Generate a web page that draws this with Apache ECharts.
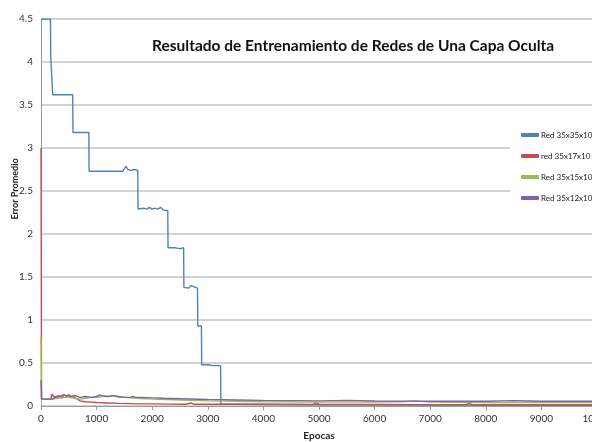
<!DOCTYPE html>
<html>
<head>
<meta charset="utf-8">
<script src="https://cdn.jsdelivr.net/npm/echarts@6/dist/echarts.min.js"></script>
<style>
  html, body { margin: 0; padding: 0; background: #fff; }
  #main { width: 592px; height: 442px; }
</style>
</head>
<body>
<div id="main"></div>
<script>
// valores (epocas / error promedio)
var yTicks = ['0', '0.5', '1', '1.5', '2', '2.5', '3', '3.5', '4', '4.5'];
var seriesNames = ['Red 35x35x10', 'red 35x17x10', 'Red 35x15x10', 'Red 35x12x10'];

var blueX = [0, 170, 175, 200, 210, 570, 575, 860, 865, 1470, 1500, 1530, 1560, 1590, 1620, 1650, 1680, 1710, 1740,
             1745, 1780, 1850, 1900, 1950, 2000, 2050, 2100, 2150, 2200, 2280, 2285, 2400, 2500, 2565, 2570, 2650,
             2700, 2815, 2820, 2885, 2890, 3000, 3100, 3230, 3235, 4000, 5000, 6000, 7000, 8000, 9000, 10000];
var blueY = [4.5, 4.5, 4.06, 4.06, 3.62, 3.62, 3.18, 3.18, 2.73, 2.73, 2.74, 2.79, 2.75, 2.77, 2.74, 2.76, 2.75, 2.77, 2.74,
             2.29, 2.28, 2.30, 2.29, 2.31, 2.29, 2.30, 2.29, 2.31, 2.28, 2.27, 1.84, 1.84, 1.83, 1.84, 1.38, 1.37,
             1.40, 1.37, 0.93, 0.93, 0.48, 0.48, 0.47, 0.47, 0.02, 0.02, 0.015, 0.015, 0.012, 0.012, 0.01, 0.01];

var redX = [0, 10, 100, 180, 190, 230, 260, 300, 340, 380, 420, 460, 500, 540, 580, 620, 660, 700, 800, 900, 1000, 1200,
            1400, 1600, 1800, 2000, 2300, 2600, 2700, 2750, 2800, 3000, 3500, 4000, 4900, 4950, 5000, 6000, 7000,
            7650, 7700, 7750, 8000, 9000, 10000];
var redY = [3.0, 0.08, 0.08, 0.08, 0.14, 0.11, 0.13, 0.10, 0.12, 0.09, 0.13, 0.11, 0.12, 0.10, 0.12, 0.09, 0.08, 0.06,
            0.05, 0.045, 0.04, 0.035, 0.03, 0.028, 0.025, 0.025, 0.022, 0.02, 0.035, 0.02, 0.02, 0.02, 0.02, 0.018,
            0.018, 0.04, 0.018, 0.017, 0.016, 0.016, 0.035, 0.016, 0.015, 0.015, 0.015];

var greenX = [0, 10, 200, 300, 400, 500, 600, 700, 800, 900, 1000, 1100, 1200, 1300, 1400, 1500, 1700, 2000, 2500,
              3000, 3500, 4000, 5000, 6000, 6500, 6700, 7000, 8000, 9000, 10000];
var greenY = [0.8, 0.08, 0.08, 0.09, 0.1, 0.1, 0.09, 0.08, 0.09, 0.1, 0.1, 0.11, 0.11, 0.12, 0.1, 0.1, 0.09, 0.08, 0.07,
              0.06, 0.055, 0.05, 0.045, 0.045, 0.05, 0.06, 0.045, 0.04, 0.04, 0.04];

var purpleX = [0, 10, 200, 260, 300, 350, 400, 450, 500, 560, 620, 700, 800, 900, 1000, 1050, 1100, 1200, 1300, 1400,
               1500, 1600, 1650, 1700, 1800, 2000, 2200, 2500, 3000, 3500, 4000, 4500, 5000, 5500, 6000, 7000, 8000,
               8500, 8800, 9000, 10000];
var purpleY = [0.3, 0.08, 0.08, 0.1, 0.12, 0.11, 0.13, 0.12, 0.13, 0.11, 0.12, 0.1, 0.11, 0.1, 0.11, 0.13, 0.12, 0.11,
               0.12, 0.11, 0.1, 0.1, 0.11, 0.1, 0.1, 0.095, 0.09, 0.085, 0.075, 0.07, 0.065, 0.062, 0.06, 0.065, 0.058,
               0.056, 0.055, 0.062, 0.058, 0.055, 0.055];

var colors = ['#4f81bd', '#c0504d', '#9bbb59', '#8064a2'];
var FONT = 'Lato, "Open Sans", sans-serif';

function pairs(xs, ys) {
    var out = [];
    for (var i = 0; i < xs.length; i++) out.push([xs[i], ys[i]]);
    return out;
}

var myChart = echarts.init(document.getElementById('main'));

var lineSeries = [[blueX, blueY], [redX, redY], [greenX, greenY], [purpleX, purpleY]].map(function (s, i) {
    return {
        name: seriesNames[i],
        type: 'line',
        data: pairs(s[0], s[1]),
        showSymbol: false,
        lineStyle: { width: 1.4, color: colors[i] },
        itemStyle: { color: colors[i] },
        animation: false
    };
});

var option = {
    animation: false,
    title: {
        text: 'Resultado de Entrenamiento de Redes de Una Capa Oculta',
        left: 147,
        top: 33,
        textStyle: { fontFamily: FONT, fontSize: 15.5, fontWeight: 'bold', color: '#111' }
    },
    // titulo del eje Y, algo por encima del centro como en el original
    graphic: [{
        type: 'text',
        x: 15,
        y: 189,
        rotation: Math.PI / 2,
        style: {
            text: 'Error Promedio',
            fontFamily: FONT, fontSize: 9, fontWeight: 'bold', fill: '#222',
            align: 'center', verticalAlign: 'middle'
        }
    }],
    legend: {
        orient: 'vertical',
        left: 510,
        top: 127,
        padding: [4, 6, 4, 11],
        backgroundColor: '#fff',
        itemWidth: 18,
        itemHeight: 4,
        itemGap: 13,
        icon: 'roundRect',
        data: seriesNames,
        textStyle: { fontFamily: FONT, fontSize: 8, color: '#222', padding: [0, 0, 0, -3] }
    },
    grid: { left: 41, right: -5, top: 19, bottom: 36, containLabel: false, outerBoundsMode: 'none' },
    xAxis: {
        type: 'value',
        min: 0,
        max: 10000,
        interval: 1000,
        name: 'Epocas',
        nameLocation: 'middle',
        nameGap: 25,
        nameTextStyle: { fontFamily: FONT, fontSize: 10, fontWeight: 'bold', color: '#222' },
        axisLine: { show: true, lineStyle: { color: '#999', width: 1 } },
        axisTick: { show: true, length: 4, lineStyle: { color: '#999' } },
        axisLabel: {
            fontFamily: FONT, fontSize: 10, color: '#333', margin: 8,
            formatter: function (v) { return String(v); }
        },
        splitLine: { show: false }
    },
    yAxis: {
        type: 'value',
        min: 0,
        max: 4.5,
        interval: 0.5,
        axisLine: { show: true, lineStyle: { color: '#999', width: 1 } },
        axisTick: { show: false },
        axisLabel: {
            fontFamily: FONT, fontSize: 10, color: '#333', margin: 8,
            formatter: function (v) { return yTicks[Math.round(v / 0.5)]; }
        },
        splitLine: { show: true, lineStyle: { color: '#c4c4c4', width: 1.5 } }
    },
    series: lineSeries
};

myChart.setOption(option);
</script>
</body>
</html>
